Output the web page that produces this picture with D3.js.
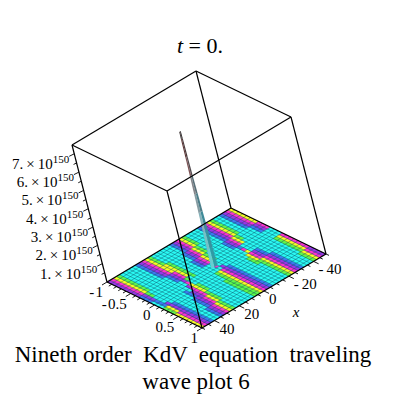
<!DOCTYPE html>
<html>
<head>
<meta charset="utf-8">
<script src="https://cdn.jsdelivr.net/npm/d3@7"></script>
<style>
html, body { margin: 0; padding: 0; background: #fff; }
text { font-family: "Liberation Serif", serif; fill: #000; white-space: pre; }
</style>
</head>
<body>
<svg id="graph-svg" width="400" height="400"></svg>
<script>
// values
const xTicks = [-40, -20, 0, 20, 40];
const yTicks = [-1, -0.5, 0, 0.5, 1];
const yTickLabels = ["-1", "-0.5", "0", "0.5", "1"];
const zTicks = [1, 2, 3, 4, 5, 6, 7];
const xExtent = [50, -50];
const yExtent = [-1, 1];
const zExtent = [0, 7.48];

// colour class of each surface cell: one row per x step, one column per y step
const surfaceRows = [
    "ppppppppbbbcccgggyyyyyyy",
    "mmmmmmmmpppbbbyyymmmmmmm",
    "yyyyyyyyggcccppppppppppp",
    "ggggggggccccccbbbbbbbbbb",
    "cccccccccccccccccccccccc",
    "cccccccccccccccccccccccc",
    "ccccccccccccccccccccbbbb",
    "ccccccccccccccccbbbbpppp",
    "cccccccccccccbbbppppmmmm",
    "bbbbbbbcccccccpppmmmyyyy",
    "pppppppbbbccpmmmmyyygggg",
    "mmmmmmmppppmyyyyggggcccc",
    "yyyyyyymmmgccgggcccccccc",
    "ggggyyyyyycccccccccccccc",
    "ccccgggggggccccccccccccc",
    "cccccccccccccccccccccccc",
    "cccccccccccccccccccccccc",
    "ccccccccccccccccgggggggg",
    "cccccccbbbcccggggggggggg",
    "ccccbbbpppcccyyyyyyyyyyy",
    "bbbbpppmmmcmcmmmmmmmmmmm",
    "ppppmmmyyyccpppppppppppp",
    "mmmmyyygggcccbbbbbbbbbbb",
    "yyyygggccccccccccccccccc",
    "ggggcccccccccccccccccccc",
    "cccccccccccccccccccccccc",
    "cccccccccccccccccccccccc",
    "ccccccccccccccgggccccccc",
    "cccccccbbbcccyyygggggggg",
    "bbbbbbbpppbmymmmyyyyyyyy",
    "pppppppmmmcccpppmmmmmmmm",
    "mmmmmmmyyycccbbbpppppppp",
    "yyyyyyyggcccccccbbbbbbbb",
    "gggggggccccccccccccccccc",
    "cccccccccccccccccccccccc",
    "cccccccccccccccccccccccc",
    "bbbbbbbcccccccccccccgggg",
    "pppppppbbbcccgggggggyyyy",
    "mmmmmmmpppcccyyyyyyymmmm",
    "yyyyyyymmmcccmmmmmmmpppp"
];
const classColors = {
    c: "#2cfaf4", b: "#3c78f0", p: "#9a34e8",
    m: "#ff30d0", y: "#fcfc20", g: "#60f848"
};

// the spike: height (in units of 1e150) and half width along x at that height
const spikeZ = [0, 1, 2, 3, 4, 5, 6, 7, 7.4];
const spikeHalfWidth = [2.4, 2.2, 1.9, 1.6, 1.3, 1.05, 0.85, 0.7, 0.6];
const spikeCentre = [0, -0.04];

var svg = d3.select("#graph-svg");

// box corners on screen
const origin = [107, 282];   // x=50, y=-1, z=0
const uVec = [124, -74];     // along x
const vVec = [95, 46];       // along y
const wVec = [-35, -137];    // along z

const xScale = d3.scaleLinear().domain(xExtent).range([0, 1]);
const yScale = d3.scaleLinear().domain(yExtent).range([0, 1]);
const zScale = d3.scaleLinear().domain(zExtent).range([0, 1]);

function project(x, y, z) {
    var u = xScale(x), v = yScale(y), w = zScale(z);
    return [
        origin[0] + u * uVec[0] + v * vVec[0] + w * wVec[0],
        origin[1] + u * uVec[1] + v * vVec[1] + w * wVec[1]
    ];
}

var defs = svg.append("defs");
defs.append("filter").attr("id", "smooth")
    .attr("x", "-5%").attr("y", "-5%").attr("width", "110%").attr("height", "110%")
    .append("feGaussianBlur").attr("stdDeviation", 0.6);
defs.append("clipPath").attr("id", "floor")
    .append("polygon")
    .attr("points", [project(50, -1, 0), project(50, 1, 0), project(-50, 1, 0), project(-50, -1, 0)].join(" "));

// surface cells
const nRows = surfaceRows.length, nCols = surfaceRows[0].length;
const gridX = d3.scaleLinear().domain([0, nRows]).range(xExtent);
const gridY = d3.scaleLinear().domain([0, nCols]).range(yExtent);
var cells = [];
surfaceRows.forEach((row, i) => {
    row.split("").forEach((c, j) => cells.push({ i: i, j: j, c: c }));
});

function drawCells(parent) {
    parent.selectAll("polygon")
        .data(cells)
        .enter()
        .append("polygon")
        .attr("points", d => [
            project(gridX(d.i), gridY(d.j), 0),
            project(gridX(d.i + 1), gridY(d.j), 0),
            project(gridX(d.i + 1), gridY(d.j + 1), 0),
            project(gridX(d.i), gridY(d.j + 1), 0)
        ].join(" "))
        .attr("fill", d => classColors[d.c])
        .attr("stroke", d => classColors[d.c])
        .attr("stroke-width", 0.4);
}
var surfaceG = svg.append("g").attr("clip-path", "url(#floor)");
drawCells(surfaceG.append("g"));
drawCells(surfaceG.append("g").attr("filter", "url(#smooth)"));

// mesh lines on top of the smoothed colours
var meshG = surfaceG.append("g")
    .attr("stroke", "#0a4a60").attr("stroke-width", 0.6).attr("stroke-opacity", 0.7).attr("fill", "none");
var meshLine = d3.line();
d3.range(nRows + 1).forEach(i => {
    meshG.append("path").attr("d", meshLine([project(gridX(i), yExtent[0], 0), project(gridX(i), yExtent[1], 0)]));
});
d3.range(nCols + 1).forEach(j => {
    meshG.append("path").attr("d", meshLine([project(xExtent[0], gridY(j), 0), project(xExtent[1], gridY(j), 0)]));
});

// spike, two faces split along its ridge
const leftColor = d3.scaleLinear()
    .domain([0, 2.5, 4.5, 6, 7.4])
    .range(["#5fd6d8", "#86b2ba", "#858589", "#7a3c3c", "#303030"]);
const rightColor = d3.scaleLinear()
    .domain([0, 2.5, 4.5, 6, 7.4])
    .range(["#2c9ea8", "#3e8a98", "#5a7078", "#50383a", "#282828"]);

var spikeG = svg.append("g");
d3.range(spikeZ.length - 1).forEach(k => {
    var z0 = spikeZ[k], z1 = spikeZ[k + 1];
    var w0 = spikeHalfWidth[k], w1 = spikeHalfWidth[k + 1];
    var cx = spikeCentre[0], cy = spikeCentre[1];
    spikeG.append("polygon")
        .attr("points", [project(cx + w0, cy, z0), project(cx, cy, z0), project(cx, cy, z1), project(cx + w1, cy, z1)].join(" "))
        .attr("fill", leftColor((z0 + z1) / 2));
    spikeG.append("polygon")
        .attr("points", [project(cx, cy, z0), project(cx - w0, cy, z0), project(cx - w1, cy, z1), project(cx, cy, z1)].join(" "))
        .attr("fill", rightColor((z0 + z1) / 2));
});

// box
const corners = [
    [[50, -1], [50, 1]], [[50, 1], [-50, 1]], [[-50, 1], [-50, -1]], [[-50, -1], [50, -1]]
];
var line = d3.line();
var boxG = svg.append("g").attr("stroke", "#000").attr("stroke-width", 1.2).attr("fill", "none");
corners.forEach(c => {
    boxG.append("path").attr("d", line([project(c[0][0], c[0][1], 0), project(c[1][0], c[1][1], 0)]));
    boxG.append("path").attr("d", line([project(c[0][0], c[0][1], zExtent[1]), project(c[1][0], c[1][1], zExtent[1])]));
    boxG.append("path").attr("d", line([project(c[0][0], c[0][1], 0), project(c[0][0], c[0][1], zExtent[1])]));
});

// ticks
function tick(p, dx, dy) {
    boxG.append("path").attr("d", line([p, [p[0] + dx, p[1] + dy]])).attr("stroke-width", 0.9);
}
d3.range(-50, 50.01, 5).forEach(x => {
    var major = x % 20 === 0;
    tick(project(x, 1, 0), major ? 5 : 3, major ? 2.4 : 1.4);
});
d3.range(-1, 1.001, 0.1).forEach(y => {
    var major = Math.abs(y * 2 - Math.round(y * 2)) < 1e-6;
    tick(project(50, y, 0), major ? -5 : -3, major ? 3 : 1.8);
});
d3.range(0.5, zExtent[1], 0.5).forEach(z => {
    var major = Math.abs(z - Math.round(z)) < 1e-6;
    tick(project(50, -1, z), major ? -5 : -3, major ? 2.5 : 1.5);
});

// tick labels
svg.append("g").selectAll("text")
    .data(xTicks)
    .enter()
    .append("text")
    .attr("x", d => project(d, 1, 0)[0] + 5)
    .attr("y", d => project(d, 1, 0)[1] + 13)
    .attr("font-size", 15)
    .text(d => d < 0 ? "-\u2009" + (-d) : d);

svg.append("g").selectAll("text")
    .data(yTicks)
    .enter()
    .append("text")
    .attr("x", d => project(50, d, 0)[0] - 4)
    .attr("y", d => project(50, d, 0)[1] + 15)
    .attr("font-size", 15)
    .attr("text-anchor", "end")
    .text((d, i) => yTickLabels[i].replace("-", "-\u200a"));

var zLabels = svg.append("g").selectAll("text")
    .data(zTicks)
    .enter()
    .append("text")
    .attr("x", d => project(50, -1, d)[0] - 5)
    .attr("y", d => project(50, -1, d)[1] + 15)
    .attr("font-size", 15)
    .attr("text-anchor", "end");
zLabels.append("tspan").text(d => d + ".\u2009\u00d7\u200910");
zLabels.append("tspan").attr("dy", -6).attr("font-size", 11).text("150");

// axis name and titles
svg.append("text").attr("x", 296).attr("y", 317)
    .attr("font-size", 15).attr("font-style", "italic").attr("text-anchor", "middle").text("x");

var title = svg.append("text").attr("x", 200).attr("y", 53)
    .attr("font-size", 22).attr("text-anchor", "middle");
title.append("tspan").attr("font-style", "italic").text("t");
title.append("tspan").text(" = 0.");

svg.append("text").attr("x", 193).attr("y", 362)
    .attr("font-size", 23).attr("text-anchor", "middle")
    .text("Nineth order  KdV  equation  traveling");
svg.append("text").attr("x", 196).attr("y", 389)
    .attr("font-size", 23).attr("text-anchor", "middle")
    .text("wave plot 6");
</script>
</body>
</html>
